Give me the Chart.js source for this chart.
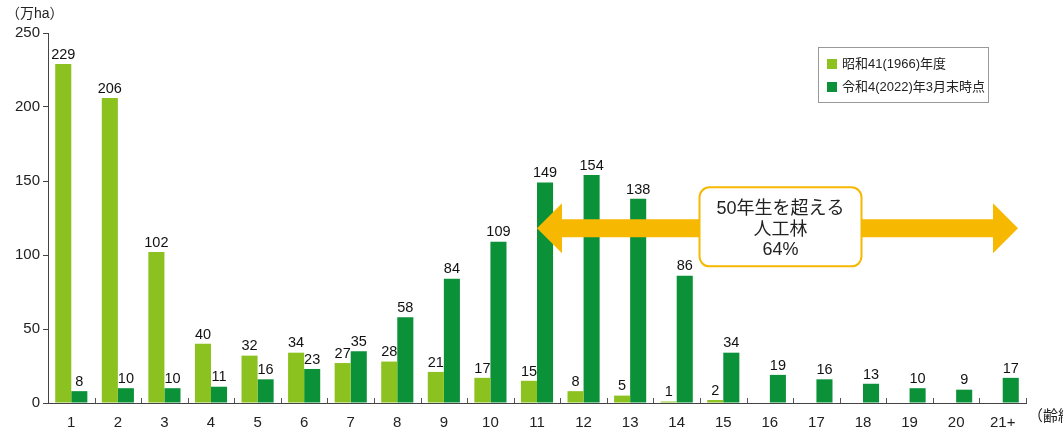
<!DOCTYPE html>
<html><head><meta charset="utf-8">
<script src="https://cdn.jsdelivr.net/npm/chart.js@4/dist/chart.umd.min.js"></script>
<style>html,body{margin:0;padding:0;background:#fff;overflow:hidden}#wrap{width:1063px;height:427px;position:relative}</style>
</head><body><div id="wrap"><canvas id="c" width="1063" height="427"></canvas></div>
<script>
const categories = ['1','2','3','4','5','6','7','8','9','10','11','12','13','14','15','16','17','18','19','20','21+'];
const series1966 = [229,206,102,40,32,34,27,28,21,17,15,8,5,1,2,null,null,null,null,null,null];
const series2022 = [8,10,10,11,16,23,35,58,84,109,149,154,138,86,34,19,16,13,10,9,17];
const seriesLabels = ['昭和41(1966)年度','令和4(2022)年3月末時点'];
const yTicks = [0,50,100,150,200,250];
const unitLabel = '（万ha）';
const xUnitLabel = '（齢級）';
const calloutLines = ['50年生を超える','人工林','64%'];
const arrowStartCategory = '11';
const arrowValue = 118;

const FONT = "'Liberation Sans','Noto Sans CJK JP',sans-serif";
const LIGHT = '#8cc21f', DARK = '#0b9138', GOLD = '#f6b800';

const decor = {
  id: 'decor',
  afterDatasetsDraw(chart) {
    const ctx = chart.ctx, xs = chart.scales.x, ys = chart.scales.y;
    ctx.save();
    // value labels
    ctx.fillStyle = '#111';
    ctx.font = '14.5px ' + FONT;
    ctx.textAlign = 'center';
    ctx.textBaseline = 'bottom';
    chart.data.datasets.forEach((ds, di) => {
      const meta = chart.getDatasetMeta(di);
      meta.data.forEach((bar, i) => {
        const v = ds.data[i];
        if (v === null || v === undefined) return;
        ctx.fillText(String(v), bar.x, bar.y - 2);
      });
    });
    // upward x ticks at category boundaries
    ctx.strokeStyle = '#555';
    ctx.lineWidth = 1;
    const n = categories.length;
    const step = (xs.right - xs.left) / n;
    for (let i = 1; i <= n; i++) {
      const x = Math.round(xs.left + step * i) + 0.5;
      ctx.beginPath(); ctx.moveTo(x, ys.bottom); ctx.lineTo(x, ys.bottom - 5); ctx.stroke();
    }
    // arrow
    const xl = xs.getPixelForValue(categories.indexOf(arrowStartCategory));
    const xr = xs.right - 8;
    const yc = ys.getPixelForValue(arrowValue);
    const sh = 9, hh = 25, hl = 25;
    ctx.fillStyle = GOLD;
    ctx.beginPath();
    ctx.moveTo(xl, yc);
    ctx.lineTo(xl + hl, yc - hh);
    ctx.lineTo(xl + hl, yc - sh);
    ctx.lineTo(xr - hl, yc - sh);
    ctx.lineTo(xr - hl, yc - hh);
    ctx.lineTo(xr, yc);
    ctx.lineTo(xr - hl, yc + hh);
    ctx.lineTo(xr - hl, yc + sh);
    ctx.lineTo(xl + hl, yc + sh);
    ctx.lineTo(xl + hl, yc + hh);
    ctx.closePath();
    ctx.fill();
    // callout box
    const bw = 162, bh = 79, bx = (xl + xr) / 2 + 3 - bw / 2, by = yc - 41;
    ctx.beginPath();
    ctx.roundRect(bx, by, bw, bh, 10);
    ctx.fillStyle = '#fff'; ctx.fill();
    ctx.lineWidth = 2; ctx.strokeStyle = GOLD; ctx.stroke();
    ctx.fillStyle = '#222';
    ctx.font = '18px ' + FONT;
    ctx.textBaseline = 'middle';
    calloutLines.forEach((t, i) => ctx.fillText(t, bx + bw / 2, by + 22 + i * 20.5));
    // legend
    const lx = 818, ly = 47, lw = 170, lh = 55;
    ctx.lineWidth = 1; ctx.strokeStyle = '#999';
    ctx.strokeRect(lx + 0.5, ly + 0.5, lw, lh);
    ctx.font = '13px ' + FONT;
    ctx.textAlign = 'left';
    chart.data.datasets.forEach((ds, i) => {
      const yy = ly + 17 + i * 23;
      ctx.fillStyle = ds.backgroundColor;
      ctx.fillRect(lx + 9, yy - 5, 10, 10);
      ctx.fillStyle = '#222';
      ctx.fillText(ds.label, lx + 24, yy);
    });
    // unit labels
    ctx.font = '14px ' + FONT;
    ctx.fillText(unitLabel, 6, 14);
    ctx.font = '15px ' + FONT;
    ctx.fillText(xUnitLabel, xs.right + 2, 417);
    ctx.restore();
  }
};

new Chart(document.getElementById('c'), {
  type: 'bar',
  data: {
    labels: categories,
    datasets: [
      { label: seriesLabels[0], data: series1966, backgroundColor: LIGHT, barPercentage: 1, categoryPercentage: 0.69 },
      { label: seriesLabels[1], data: series2022, backgroundColor: DARK, barPercentage: 1, categoryPercentage: 0.69 }
    ]
  },
  options: {
    responsive: false,
    animation: false,
    layout: { padding: { top: 33, right: 37, left: 0, bottom: 0 } },
    plugins: { legend: { display: false }, tooltip: { enabled: false } },
    scales: {
      x: {
        grid: { display: false },
        border: { display: true, color: '#444', width: 1 },
        ticks: { color: '#222', font: { size: 15, family: FONT }, padding: 3, maxRotation: 0 },
        afterFit(s) { s.height = 24; }
      },
      y: {
        min: 0, max: 250,
        afterBuildTicks(s) { s.ticks = yTicks.map(v => ({ value: v })); },
        grid: { drawOnChartArea: false, drawTicks: true, tickLength: 5, color: '#444' },
        border: { display: true, color: '#444', width: 1 },
        ticks: { color: '#222', font: { size: 15, family: FONT }, padding: 3 },
        afterFit(s) { s.width = 48; }
      }
    }
  },
  plugins: [decor]
});
</script></body></html>
